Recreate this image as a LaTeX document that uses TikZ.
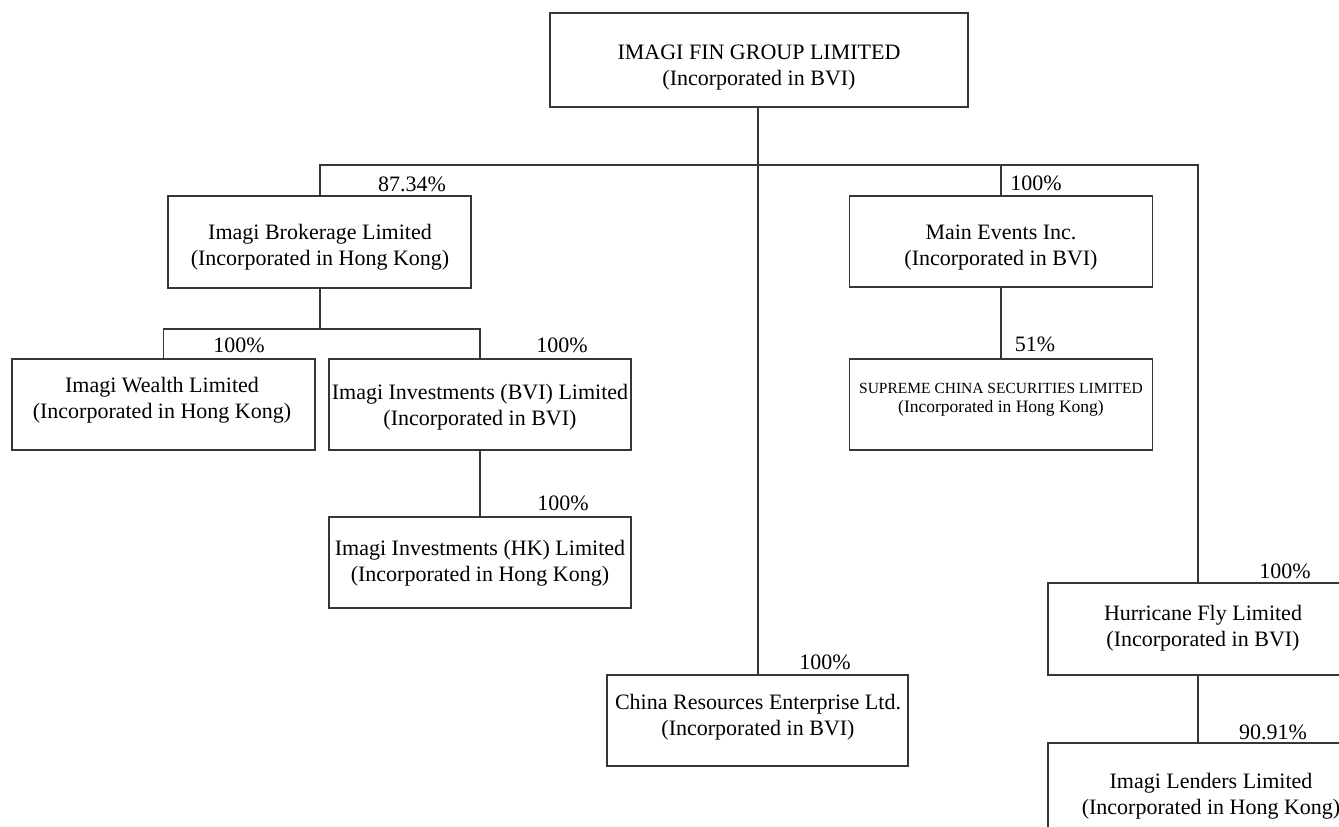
\documentclass[tikz,border=0pt]{standalone}
\usepackage{fontspec}
\setmainfont{Liberation Serif}
\definecolor{ln}{HTML}{3C3434}
\begin{document}
\begin{tikzpicture}[x=1pt,y=-1pt,
  box/.style={draw=ln,line width=1.1pt,rectangle,inner sep=0pt},
  txt/.style={align=center,inner sep=0pt,font=\fontsize{22}{26}\selectfont},
  pct/.style={inner sep=0pt,font=\fontsize{22}{26}\selectfont},
  conn/.style={draw=ln,line width=1.1pt}]
\useasboundingbox (0,0) rectangle (1339,827);
% boxes
\node[box,minimum width=418pt,minimum height=94pt] (top) at (759,60) {};
\node[box,minimum width=303pt,minimum height=92pt] (broker) at (319.5,242) {};
\node[box,minimum width=303pt,minimum height=91pt] (main) at (1001,241.5) {};
\node[box,minimum width=303pt,minimum height=91pt] (wealth) at (163.5,404.5) {};
\node[box,minimum width=302pt,minimum height=91pt] (bvi) at (480,404.5) {};
\node[box,minimum width=303pt,minimum height=91pt] (supreme) at (1001,404.5) {};
\node[box,minimum width=302pt,minimum height=91pt] (hk) at (480,562.5) {};
\node[box,minimum width=292pt,minimum height=92pt] (hurr) at (1194,629) {};
\node[box,minimum width=301pt,minimum height=91pt] (china) at (757.5,720.5) {};
\node[box,minimum width=292pt,minimum height=92pt] (lend) at (1194,789) {};
% texts
\node[txt] (top-t) at (759,68) {IMAGI FIN GROUP LIMITED\\(Incorporated in BVI)};
\node[txt] (broker-t) at (320,247) {Imagi Brokerage Limited\\(Incorporated in Hong Kong)};
\node[txt] (main-t) at (1001,247.5) {Main Events Inc.\\(Incorporated in BVI)};
\node[txt] (wealth-t) at (162,400) {Imagi Wealth Limited\\(Incorporated in Hong Kong)};
\node[txt] (bvi-t) at (480,407) {Imagi Investments (BVI) Limited\\(Incorporated in BVI)};
\node[align=center,inner sep=0pt,font=\fontsize{17.5}{19}\selectfont] (supreme-t) at (1001,400) {{\fontsize{15.5}{19}\selectfont SUPREME CHINA SECURITIES LIMITED}\\(Incorporated in Hong Kong)};
\node[txt] (hk-t) at (480,563.5) {Imagi Investments (HK) Limited\\(Incorporated in Hong Kong)};
\node[txt] (hurr-t) at (1203,628.5) {Hurricane Fly Limited\\(Incorporated in BVI)};
\node[txt] (china-t) at (758,717.5) {China Resources Enterprise Ltd.\\(Incorporated in BVI)};
\node[txt] (lend-t) at (1211,796.5) {Imagi Lenders Limited\\(Incorporated in Hong Kong)};
% junctions
\coordinate (bus) at (758,165);
\coordinate (bus2) at (320,329);
\coordinate (hx) at (1198,0);
% connectors
\draw[conn] (top.south -| bus) -- (china.north -| bus);
\draw[conn] (broker.north -| bus2) |- (bus) -| (hurr.north -| hx);
\draw[conn] (main.north) -- (main.north |- bus);
\draw[conn] (broker.south -| bus2) -- (bus2);
\draw[conn] (wealth.north) |- (bus2) -| (bvi.north);
\draw[conn] (bvi.south) -- (hk.north);
\draw[conn] (main.south) -- (supreme.north);
\draw[conn] (hurr.south -| hx) -- (lend.north -| hx);
% percentages
\node[pct] (p1) at (412,184) {87.34\%};
\node[pct] (p2) at (1036,183) {100\%};
\node[pct] (p3) at (239,345) {100\%};
\node[pct] (p4) at (562,345) {100\%};
\node[pct] (p5) at (1035,344) {51\%};
\node[pct] (p6) at (563,503) {100\%};
\node[pct] (p7) at (825,662) {100\%};
\node[pct] (p8) at (1285,571) {100\%};
\node[pct] (p9) at (1273,732) {90.91\%};
\end{tikzpicture}
\end{document}
